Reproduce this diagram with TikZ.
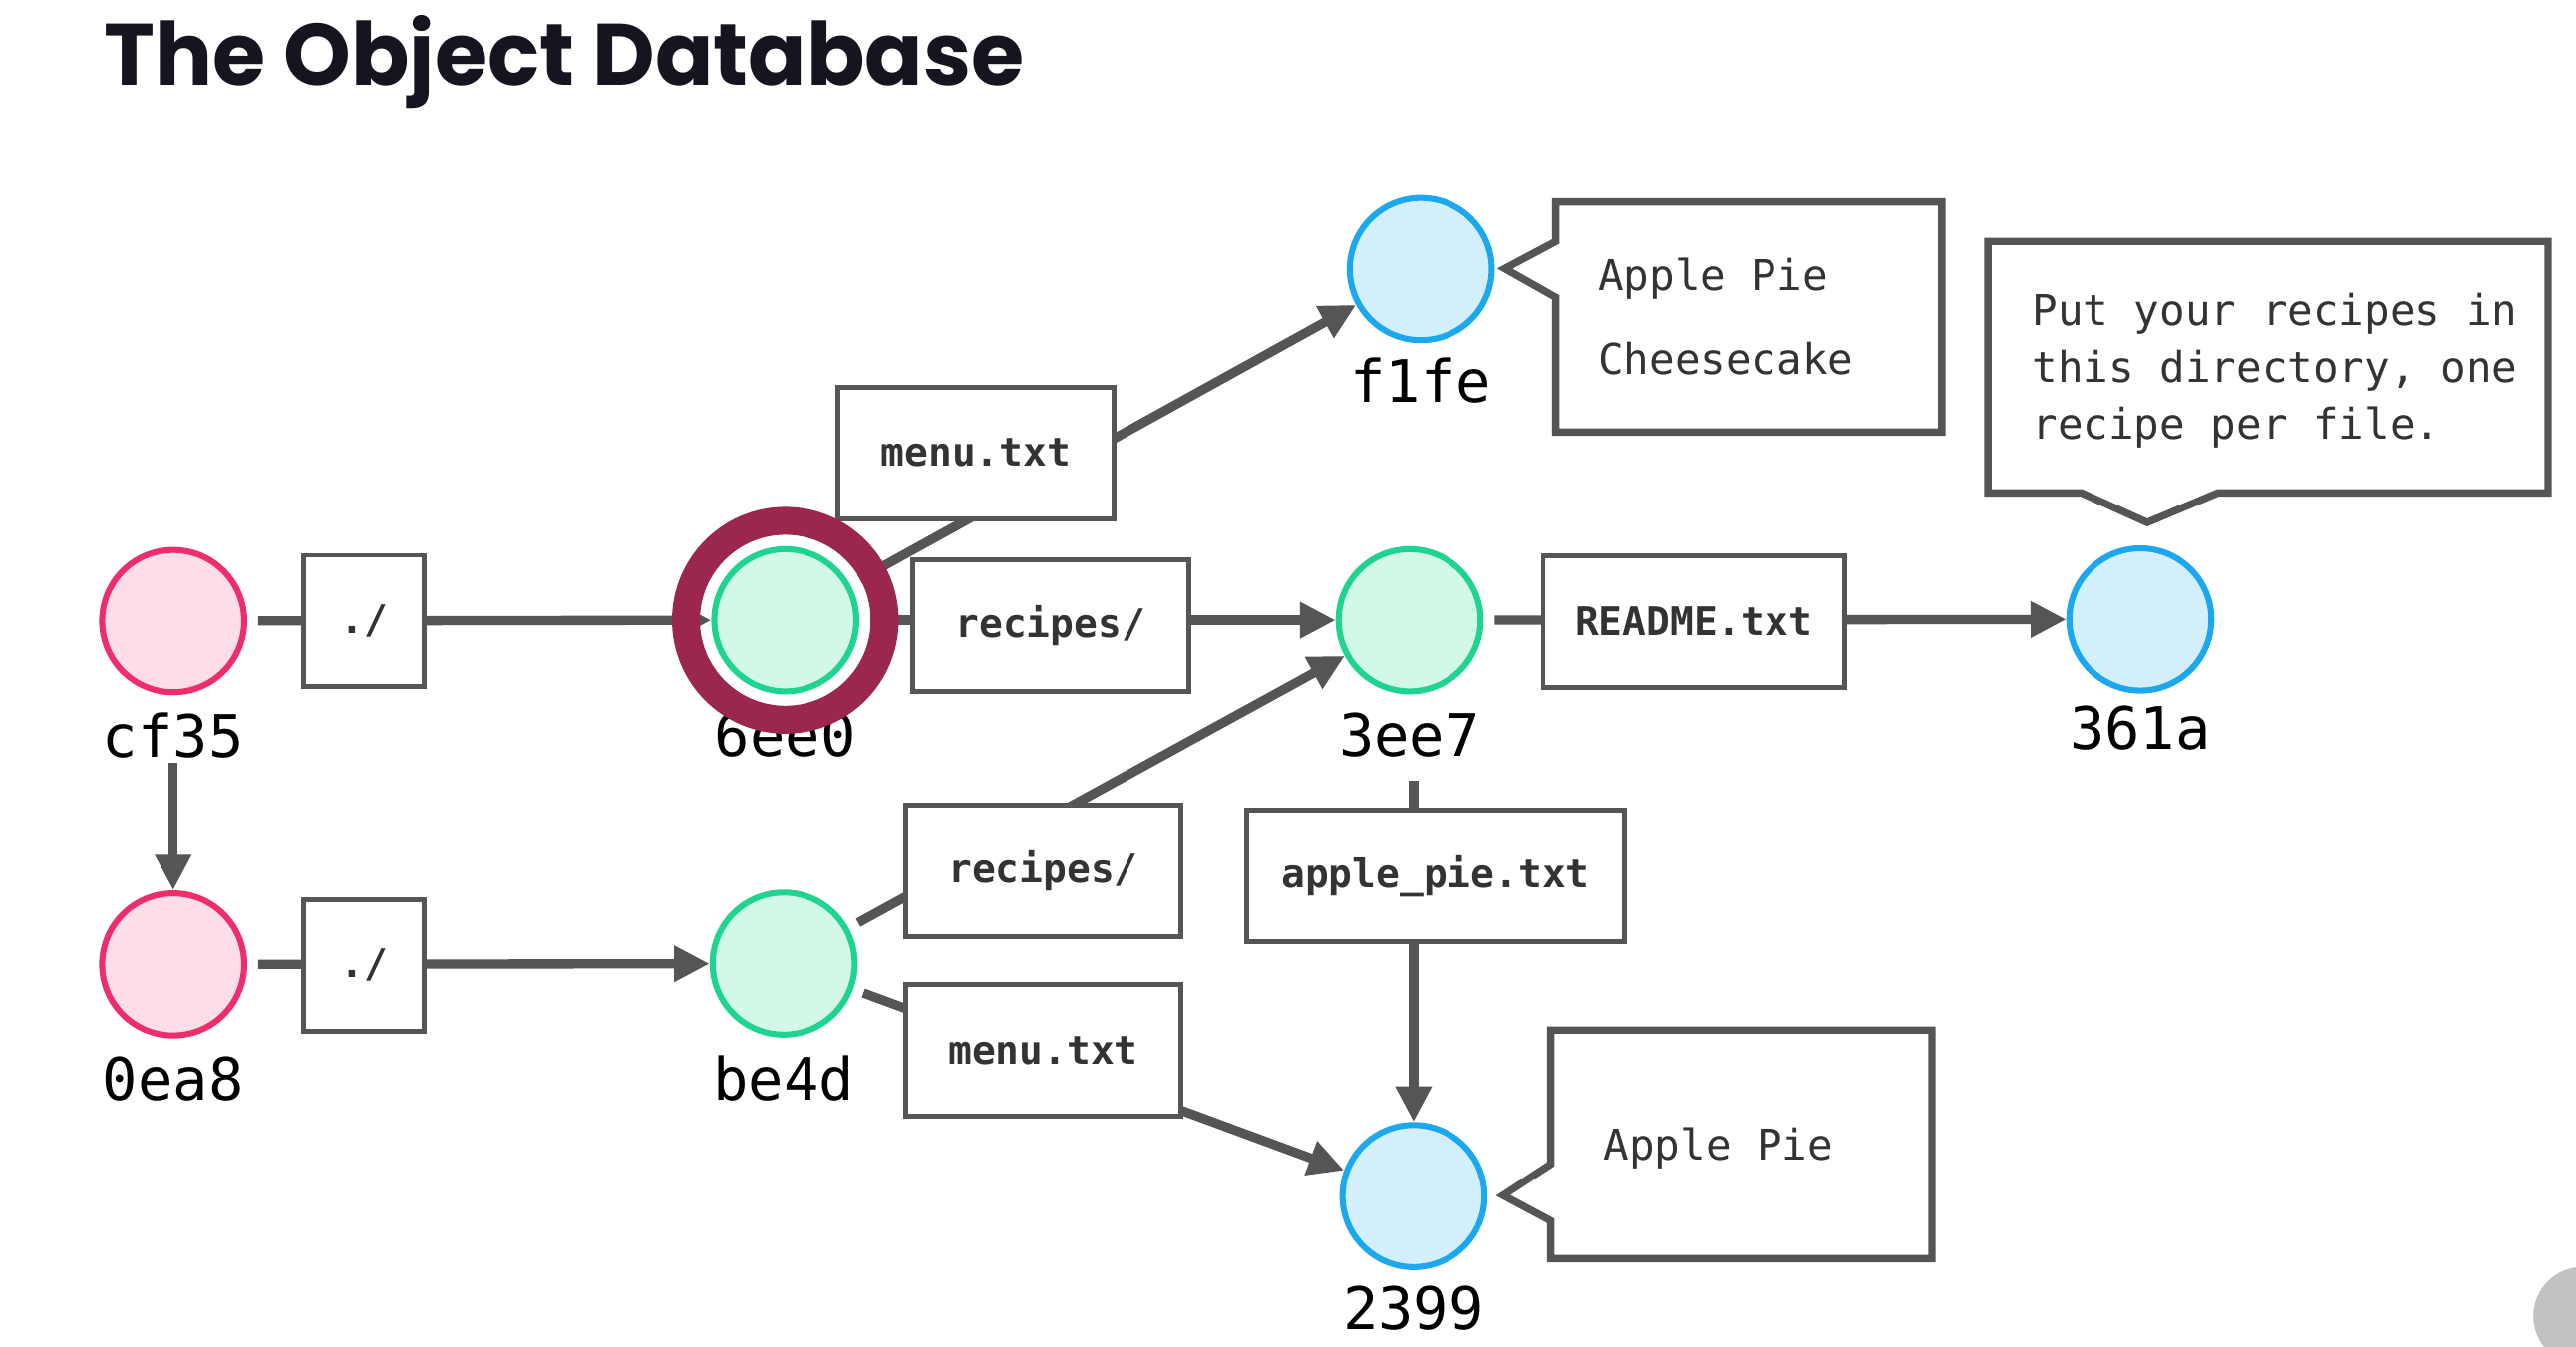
\documentclass[tikz,border=0pt]{standalone}
\usepackage{fontspec}
\usepackage{graphicx}
\usetikzlibrary{arrows.meta}
\newfontfamily\monofont{DejaVu Sans Mono}
\newfontfamily\titlefont{Poppins}
\definecolor{cpinkf}{HTML}{FDDDE8}
\definecolor{cpinkd}{HTML}{EE2D6B}
\definecolor{cgreenf}{HTML}{D2F8E8}
\definecolor{cgreend}{HTML}{1ED48E}
\definecolor{cbluef}{HTML}{D3EFFB}
\definecolor{cblued}{HTML}{1BA8EE}
\definecolor{cring}{HTML}{9B2650}
\definecolor{cline}{HTML}{555555}
\definecolor{ctext}{HTML}{333333}
\definecolor{ctitle}{HTML}{16141F}
\begin{document}
\begin{tikzpicture}[x=0.6pt,y=-0.6pt,
  obj/.style={circle, inner sep=0pt, minimum size=51.9pt, line width=2.2pt},
  commit/.style={obj, draw=cpinkd, fill=cpinkf},
  tree/.style={obj, draw=cgreend, fill=cgreenf},
  blob/.style={obj, draw=cblued, fill=cbluef},
  hashlbl/.style={anchor=base, inner sep=0pt, text=black, font=\monofont\fontsize{21.4}{24}\selectfont},
  namebox/.style={draw=cline, line width=1.8pt, fill=white, inner sep=0pt, minimum height=48pt, text=ctext, font=\monofont\bfseries\fontsize{14.4}{16}\selectfont},
  conn/.style={draw=cline, line width=3.4pt, shorten <=4pt, -{Triangle[length=13pt,width=12.5pt]}},
  callout/.style={draw=cline, line width=2.7pt, line join=miter, fill=white},
  callouttext/.style={anchor=base west, inner sep=0pt, text=ctext, font=\monofont\fontsize{15.5}{18}\selectfont},
]
\useasboundingbox (0,0) rectangle (1568,819.2);
\fill[white] (0,0) rectangle (1568,819.2);

% title
\node[anchor=base west, inner sep=0pt, text=ctitle] (title) at (63,51.6)
  {\resizebox{336pt}{25.5pt}{\titlefont\bfseries The Object Database}};

% objects
\node[commit] (ocf35) at (105.4,378) {};
\node[commit] (o0ea8) at (105.4,587) {};
\node[tree] (o6ee0) at (478,377.5) {};
\node[tree] (obe4d) at (477,586.5) {};
\node[tree] (o3ee7) at (858,377.5) {};
\node[blob] (of1fe) at (864.8,163.8) {};
\node[blob] (o361a) at (1302.8,377) {};
\node[blob] (o2399) at (860.4,727.9) {};

% hash labels
\node[hashlbl] (lcf35) at (105.4,461) {cf35};
\node[hashlbl] (l0ea8) at (105.4,669.5) {0ea8};
\node[hashlbl] (l6ee0) at (478,460) {6ee0};
\node[hashlbl] (lbe4d) at (477,669.5) {be4d};
\node[hashlbl] (l3ee7) at (858,460) {3ee7};
\node[hashlbl] (lf1fe) at (864.8,244.7) {f1fe};
\node[hashlbl] (l361a) at (1302.8,456) {361a};
\node[hashlbl] (l2399) at (860.4,809) {2399};

\coordinate (cf35s) at (105.4,464);
\coordinate (c3ee7s) at (860.4,475);

% connectors
\draw[conn] (ocf35) -- (o6ee0);
\draw[conn, shorten <=0pt] (cf35s) -- (o0ea8);
\draw[conn] (o0ea8) -- (obe4d);
\draw[conn] (o6ee0) -- (of1fe);
\draw[conn] (o6ee0) -- (o3ee7);
\draw[conn] (obe4d) -- (o3ee7);
\draw[conn] (obe4d) -- (o2399);
\draw[conn, shorten <=0pt] (c3ee7s) -- (o2399);
\draw[conn] (o3ee7) -- (o361a);

% name boxes
\node[namebox, minimum width=43.8pt] (b1) at (221.5,378) {./};
\node[namebox, minimum width=43.8pt] (b2) at (221.5,587.5) {./};
\node[namebox, minimum width=100.8pt] (b3) at (594,275.6) {menu.txt};
\node[namebox, minimum width=100.8pt] (b4) at (639.4,380.8) {recipes/};
\node[namebox, minimum width=100.8pt] (b5) at (635,530) {recipes/};
\node[namebox, minimum width=100.8pt] (b6) at (635,639.3) {menu.txt};
\node[namebox, minimum width=138pt] (b7) at (873.8,533.2) {apple\_pie.txt};
\node[namebox, minimum width=110pt] (b8) at (1031,378.2) {README.txt};

% callouts
\draw[callout] (947,123) -- (1182,123) -- (1182,263) -- (947,263) -- (947,181) -- (916,163.5) -- (947,147) -- cycle;
\node[callouttext] (t1) at (972.5,177) {Apple Pie};
\node[callouttext] (t2) at (972.5,227.6) {Cheesecake};

\draw[callout] (1210,147) -- (1551,147) -- (1551,300) -- (1350,300) -- (1307,318) -- (1267,300) -- (1210,300) -- cycle;
\node[callouttext] (t3) at (1236.6,198.3) {Put your recipes in};
\node[callouttext] (t4) at (1236.6,232.6) {this directory, one};
\node[callouttext] (t5) at (1236.6,267) {recipe per file.};

\draw[callout] (944,627) -- (1176,627) -- (1176,766) -- (944,766) -- (944,743) -- (915,727.5) -- (944,708.5) -- cycle;
\node[callouttext] (t6) at (975.7,706.3) {Apple Pie};

% highlight ring
\draw[cring, line width=10.2pt] (o6ee0.center) circle[radius=36.3pt];

% corner overlay
\begin{scope}
\clip (0,0) rectangle (1568,819.2);
\fill[black!24] (1572,801) circle[radius=18pt];
\end{scope}
\end{tikzpicture}
\end{document}
